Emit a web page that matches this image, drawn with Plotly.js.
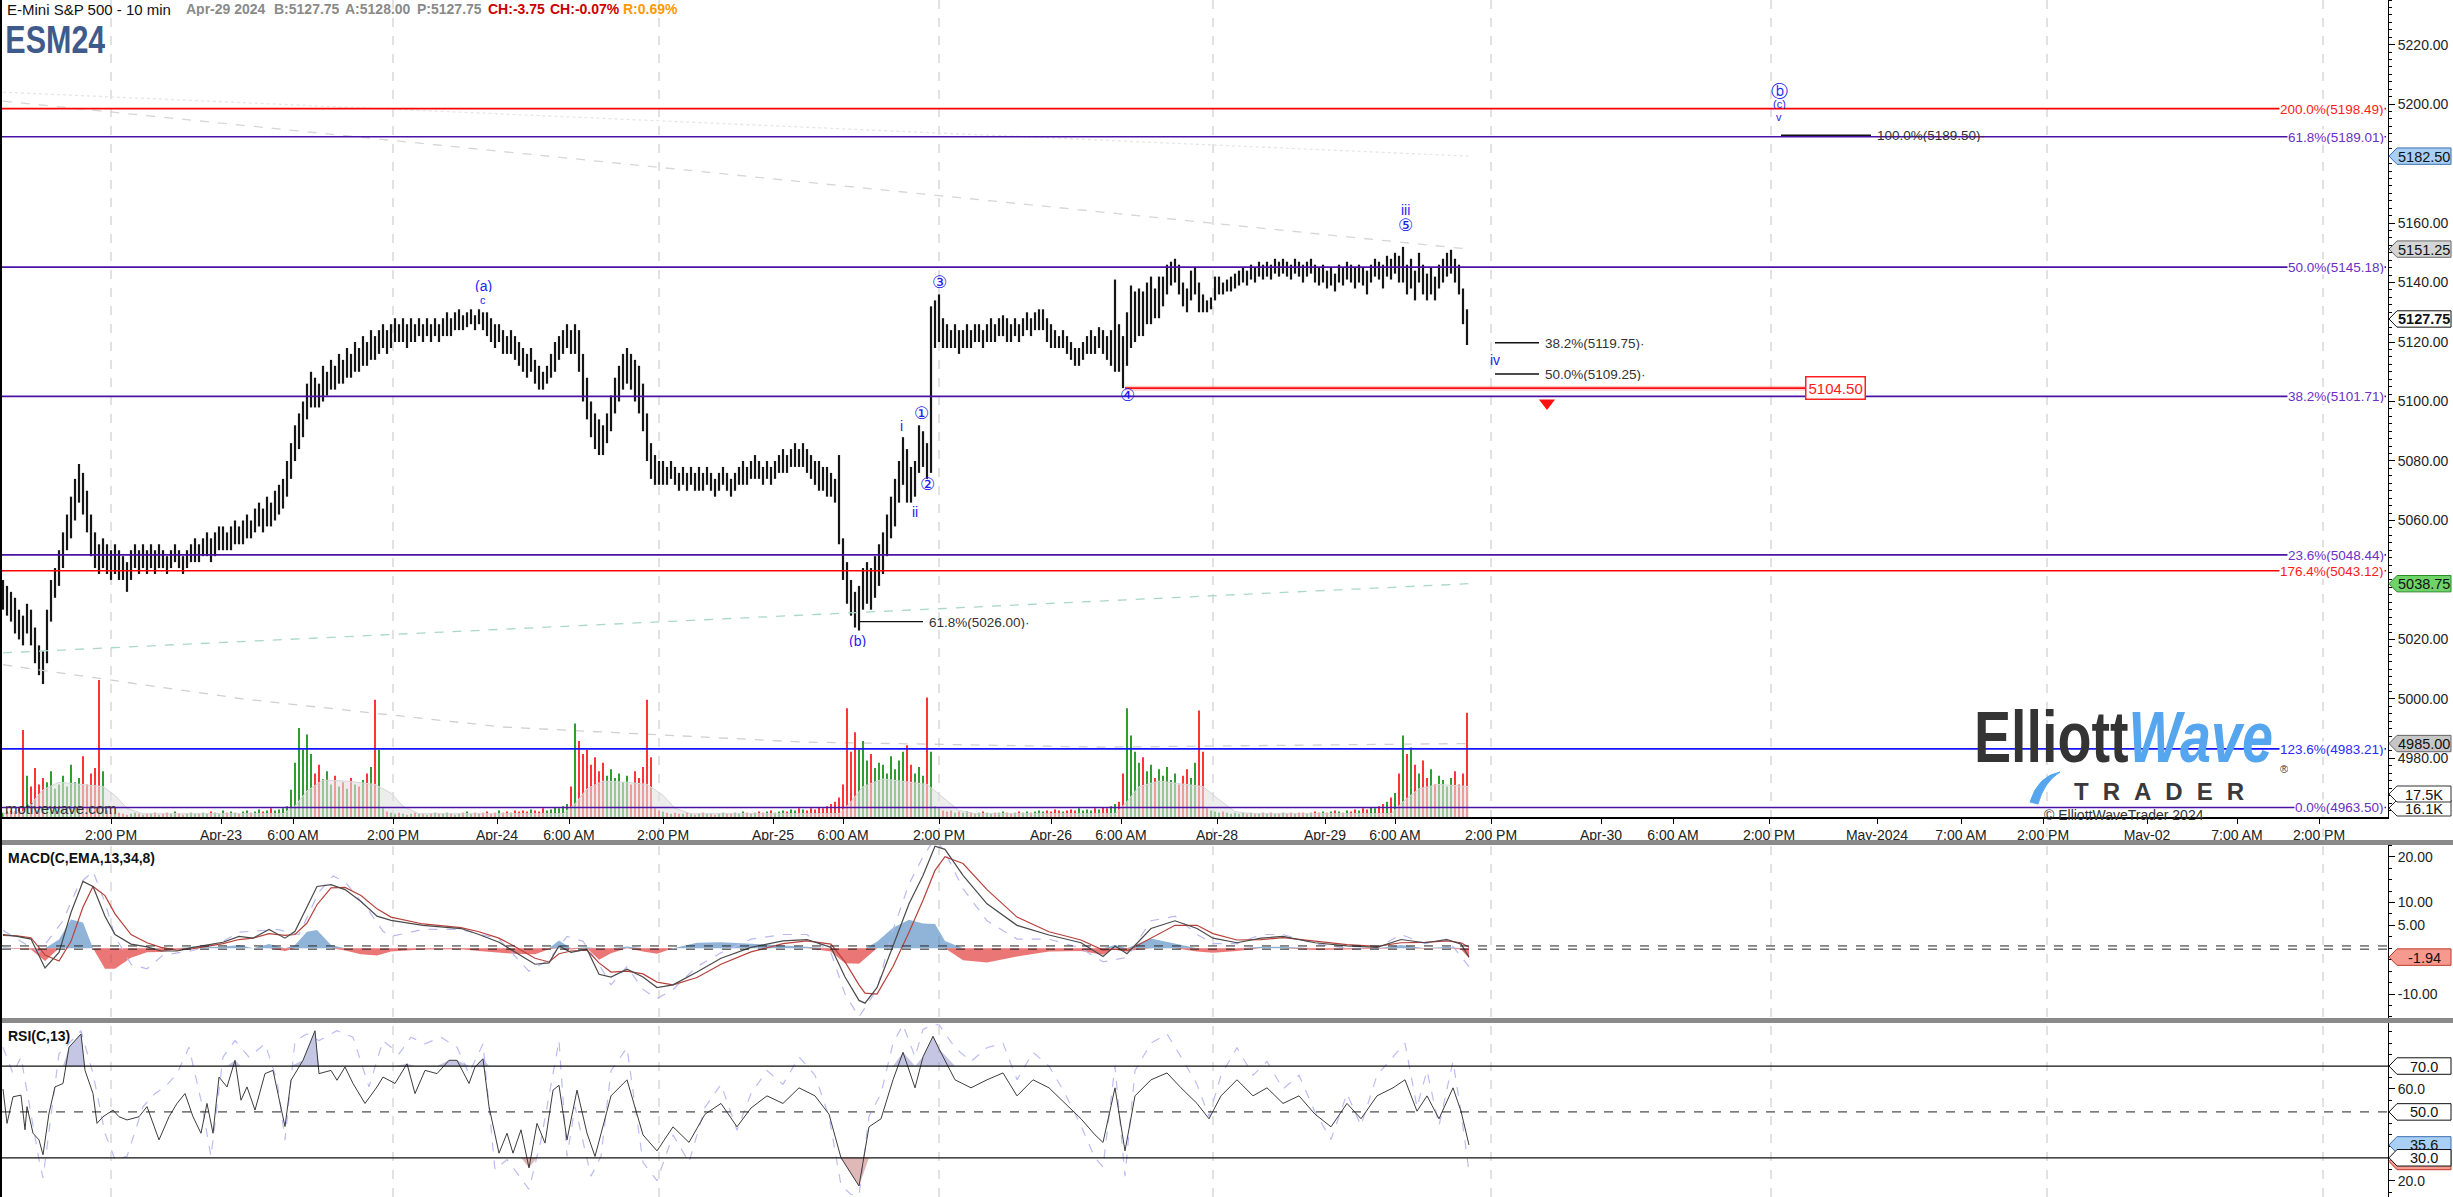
<!DOCTYPE html>
<html><head><meta charset="utf-8">
<script src="https://cdn.plot.ly/plotly-3.0.1.min.js"></script>
<style>html,body{margin:0;padding:0;background:#fff;overflow:hidden}</style>
</head><body><div id="chart" style="width:2453px;height:1197px"></div>
<script>
// ---------------- DATA ----------------
const barStep = 2; // 10-minute bars per drawn price bar
const priceHigh = [
5040,5038,5036,5034,5030,5028,5032,5030,5024,5018,
5016,5030,5040,5044,5050,5056,5062,5068,5074,5079,
5076,5070,5062,5056,5052,5054,5052,5050,5052,5050,
5048,5046,5050,5052,5050,5052,5050,5052,5050,5052,
5050,5048,5050,5052,5050,5048,5050,5052,5054,5052,
5054,5056,5054,5056,5058,5058,5056,5058,5060,5058,
5060,5062,5060,5064,5066,5064,5068,5066,5070,5072,
5074,5080,5086,5092,5096,5100,5106,5110,5108,5106,
5112,5110,5114,5112,5116,5114,5118,5116,5120,5118,
5122,5120,5124,5122,5124,5126,5124,5126,5128,5126,
5128,5126,5128,5126,5128,5126,5128,5126,5128,5126,
5128,5130,5128,5130,5131,5129,5130,5131,5129,5131,
5130,5130,5128,5126,5126,5124,5122,5124,5122,5120,
5118,5116,5118,5114,5112,5110,5112,5116,5120,5122,
5124,5126,5124,5126,5124,5116,5108,5100,5096,5094,
5092,5096,5102,5108,5112,5116,5118,5116,5114,5112,
5106,5096,5086,5082,5080,5080,5078,5080,5078,5076,
5078,5076,5078,5076,5078,5076,5078,5076,5074,5076,
5078,5076,5074,5076,5078,5080,5078,5080,5082,5080,
5078,5080,5078,5080,5082,5084,5082,5084,5086,5084,
5086,5084,5082,5080,5080,5078,5078,5076,5074,5082,
5054,5046,5040,5036,5038,5044,5046,5044,5048,5052,
5056,5062,5068,5074,5080,5088,5084,5078,5080,5092,
5090,5086,5132,5134,5136,5128,5126,5124,5126,5124,
5124,5126,5124,5126,5126,5124,5126,5128,5126,5128,
5129,5128,5126,5128,5126,5128,5130,5128,5130,5131,
5131,5128,5126,5124,5122,5124,5122,5120,5118,5118,
5120,5122,5124,5122,5125,5124,5122,5124,5141,5126,
5122,5130,5139,5137,5138,5137,5140,5142,5138,5142,
5142,5146,5147,5148,5146,5140,5138,5144,5145,5140,
5136,5134,5135,5142,5142,5140,5141,5142,5143,5144,
5145,5144,5146,5145,5147,5146,5147,5146,5148,5147,
5148,5147,5146,5148,5147,5146,5147,5148,5146,5145,
5146,5144,5145,5143,5146,5145,5147,5146,5145,5146,
5145,5144,5146,5148,5147,5146,5149,5148,5150,5149,
5152,5146,5148,5144,5150,5146,5143,5145,5142,5146,
5148,5150,5151,5148,5146,5138,5131];
const priceLow = [
5030,5028,5026,5022,5020,5018,5022,5018,5012,5008,
5005,5012,5026,5034,5038,5044,5050,5054,5060,5066,
5062,5056,5048,5044,5042,5044,5042,5040,5042,5040,
5040,5036,5040,5044,5042,5044,5042,5044,5042,5044,
5044,5042,5044,5046,5044,5042,5044,5046,5046,5046,
5048,5048,5046,5048,5050,5050,5050,5050,5052,5052,
5052,5054,5054,5056,5058,5056,5058,5058,5060,5062,
5064,5068,5074,5080,5084,5088,5094,5098,5098,5098,
5100,5102,5104,5104,5106,5106,5108,5108,5110,5110,
5112,5112,5114,5114,5116,5118,5116,5118,5120,5120,
5120,5118,5120,5120,5122,5120,5122,5120,5122,5120,
5122,5122,5122,5124,5124,5124,5125,5126,5124,5126,
5124,5122,5120,5118,5120,5116,5116,5116,5114,5112,
5110,5108,5110,5106,5104,5104,5106,5108,5110,5114,
5116,5118,5116,5116,5110,5100,5094,5088,5084,5082,
5082,5086,5090,5096,5100,5104,5106,5104,5100,5096,
5090,5080,5074,5072,5072,5072,5072,5074,5072,5070,
5072,5070,5072,5070,5070,5070,5072,5070,5068,5070,
5072,5070,5068,5070,5072,5072,5072,5074,5074,5074,
5072,5074,5072,5074,5076,5076,5076,5078,5078,5078,
5078,5076,5074,5072,5070,5070,5068,5068,5066,5052,
5040,5032,5028,5024,5023,5030,5032,5030,5034,5038,
5042,5048,5054,5058,5066,5072,5066,5066,5068,5076,
5078,5074,5076,5118,5120,5118,5118,5118,5118,5116,
5118,5118,5118,5120,5120,5118,5120,5120,5120,5122,
5122,5120,5120,5122,5120,5122,5124,5122,5124,5124,
5124,5120,5118,5118,5118,5118,5116,5114,5112,5112,
5114,5116,5116,5116,5118,5116,5114,5112,5110,5110,
5104.5,5112,5118,5120,5122,5122,5126,5126,5128,5128,
5132,5136,5139,5140,5136,5132,5130,5134,5136,5130,
5130,5130,5131,5134,5136,5136,5137,5137,5138,5139,
5140,5139,5141,5140,5142,5141,5142,5141,5143,5142,
5143,5142,5141,5143,5142,5140,5142,5143,5140,5139,
5140,5138,5139,5137,5140,5139,5141,5140,5138,5140,
5139,5136,5140,5142,5141,5138,5142,5141,5143,5140,
5140,5136,5138,5134,5140,5136,5134,5136,5134,5138,
5140,5142,5143,5140,5136,5126,5119];
const volumeK = [
4,5,6,5,8,80,38,28,45,30, 36,32,42,26,30,38,28,48,32,36,
56,30,40,45,126,42,6,4,3,4, 3,2,3,4,3,2,3,3,4,2,
3,4,3,5,3,2,3,4,3,3, 4,3,5,4,3,6,4,5,4,3,
5,6,4,5,7,5,6,8,6,7, 8,10,25,50,82,62,76,58,40,48,
35,42,30,38,28,32,26,36,30,28, 34,40,46,108,62,8,5,4,3,4,
3,2,3,4,3,3,2,3,4,3, 3,4,3,2,3,4,5,3,4,3,
4,5,3,4,6,4,5,4,6,5, 6,5,7,6,5,8,6,7,9,8,
10,12,28,86,70,58,62,48,55,42, 50,38,44,36,40,32,38,30,42,36,
46,108,55,8,6,5,4,3,4,3, 3,4,3,2,3,4,3,3,2,3,
4,3,3,4,3,5,4,3,4,5, 4,5,6,4,5,6,5,7,6,8,
7,6,8,7,9,8,10,12,14,18, 30,100,60,78,62,70,52,58,45,50,
48,40,56,44,52,60,66,48,40,46, 38,110,60,10,8,6,5,6,4,5,
4,5,4,3,4,5,4,3,4,4, 5,4,3,4,5,4,5,4,5,6,
5,6,5,7,6,5,6,7,6,8, 6,7,6,8,7,9,8,10,12,14,
40,100,75,60,50,55,42,48,36,44, 38,46,34,40,30,38,44,36,50,98,
60,8,6,5,4,5,4,3,4,3, 4,3,4,3,3,4,3,4,3,3,
4,3,4,3,4,4,3,4,5,4, 5,4,5,6,5,4,6,5,7,6,
8,7,9,8,10,12,14,18,22,40, 75,58,64,48,40,52,36,44,30,38,
34,28,36,42,30,40,96];
const volAvgX = [0,10,14,20,28,40,50,56,62,70,140,146,152,160,172,186,194,200,208,280,286,292,300,312,322,330,336,344,418,424,430,440,452,462,470,478,486,556,562,568,578,590,600,608,616,624,694,700,708,718,733];
const volAvgK = [3,5,12,25,32,30,28,20,8,3,3,10,24,34,33,30,22,10,3,3,12,26,33,32,30,20,8,3,3,14,28,35,32,30,18,6,3,3,14,28,33,30,28,16,5,3,3,14,26,30,28];

const tickPos = [54,109,145,195,247,283,330,385,420,468,524,559,607,661,696,744,799,835,883,937,979,1020,1072,1117,1158];
const tickLabels = ['2:00 PM','Apr-23','6:00 AM','2:00 PM','Apr-24','6:00 AM','2:00 PM','Apr-25','6:00 AM','2:00 PM','Apr-26','6:00 AM','Apr-28','Apr-29','6:00 AM','2:00 PM','Apr-30','6:00 AM','2:00 PM','May-2024','7:00 AM','2:00 PM','May-02','7:00 AM','2:00 PM'];
const gridBars = [54,195,328,468,605,744,884,1022,1160];

const macdX = [0,7,14,21,28,34,40,45,51,56,64,72,79,87,95,102,110,118,125,133,141,146,152,157,164,171,179,187,194,210,229,238,248,255,266,273,278,284,292,298,304,312,320,327,335,347,359,374,390,402,414,421,428,431,437,445,453,460,466,471,480,492,507,523,539,550,556,562,574,586,597,605,617,629,640,656,672,687,699,711,722,729,733];
const macdLine = [3.0,2.6,2.0,-4.3,-0.9,7.8,14.6,13.5,7.0,3.0,0.9,0.3,-0.6,-0.6,0.2,0.7,1.3,2.6,2.2,4.1,2.2,3.7,9.1,13.5,13.9,12.8,10.2,7.0,6.1,5.0,4.3,3.0,1.3,-0.6,-3.5,-3.2,0.5,-0.9,-0.2,-5.7,-6.3,-4.6,-6.3,-8.6,-8.0,-5.2,-2.2,0.2,1.6,1.9,0.2,-6.3,-11.4,-12.0,-8.6,0.5,9.7,15.9,22.3,21.6,15.9,9.7,5.0,2.9,1.2,-1.8,0.5,-1.2,4.3,6.0,4.3,2.2,1.2,2.2,2.6,1.2,0.5,0.2,1.9,1.2,1.9,0.9,-1.94];
const macdSignal = [2.8,2.7,2.3,-1.5,-2.8,1.5,9.0,13.5,11.5,7.5,3.0,1.2,0.2,-0.4,-0.1,0.4,1.0,1.9,2.2,3.2,2.8,3.0,5.5,9.5,13.2,13.3,11.5,8.6,6.8,5.3,4.5,3.6,2.2,0.6,-2.2,-3.0,-1.2,-0.6,-0.4,-3.2,-5.2,-5.0,-5.6,-7.4,-8.0,-6.4,-3.5,-0.8,1.0,1.6,0.9,-3.0,-8.0,-9.8,-10.0,-4.0,3.5,10.5,17.0,20.0,18.5,12.8,6.8,3.6,1.8,-0.4,-0.2,-0.6,2.2,5.0,5.0,3.2,1.8,1.9,2.3,1.6,0.8,0.4,1.2,1.3,1.6,1.2,0.2];
const macdBandX = [0,18,30,38,45,51,56,64,72,80,95,110,118,137,148,158,165,171,183,190,194,210,229,248,263,273,282,290,298,304,312,320,327,335,347,359,374,390,402,414,421,428,437,445,453,460,466,471,480,492,507,523,539,550,562,574,586,597,605,617,629,640,656,672,687,699,711,722,733];
const macdBand = [3.9,-0.9,6,14,16.8,10,2.6,-3.5,-4.5,-1.5,-0.5,1.5,3.5,4.1,3.0,12.3,15.8,14.5,8.1,3.7,2.6,4.1,4.1,2.0,-5.0,-2.5,2.6,1.5,-3.5,-8,-4,-9,-11,-9,-4,-1,2,3,3,-1,-10,-15,-9,4,14,20,24,21,13,6,2,2,0,-3,-2,6,7,3,1,1,3,3,1,0,0,3,1,2,-4];

const rsiX = [0,2,5,9,11,12,15,18,20,23,26,30,33,39,41,45,47,50,55,58,62,68,72,78,83,87,91,95,99,102,105,108,112,116,119,122,126,131,135,138,141,144,150,156,158,164,167,171,175,181,187,190,196,202,206,211,217,223,227,233,236,240,243,248,252,255,259,263,267,271,275,278,282,287,292,296,299,304,312,320,327,335,343,351,359,367,374,382,390,398,406,413,419,424,428,433,439,445,450,456,460,465,468,476,484,492,500,507,515,523,531,539,546,550,556,561,566,574,582,589,597,603,609,617,625,632,640,648,656,664,672,679,687,695,701,707,712,718,725,729,733];
const rsiLine = [60,45,56.6,57.3,42.2,52.3,40.7,37.8,31.3,49.4,60.9,62.4,78.2,84,68.1,58,45,47.9,50.8,47.9,46.5,47.9,52.3,37.8,47.9,53.7,58,47.9,40.7,53.7,40.7,65.2,60.9,72.5,55.1,60.9,50.8,66.7,68.1,55.1,43.6,63.8,72.5,85.4,66.7,68.1,63.8,69.6,62.4,53.7,60.9,65.2,62.4,71,58,68.1,66.7,72.5,72.5,62.4,69.6,73.2,52.3,32,40.7,32,42.2,25.6,45,36.4,59.5,61.6,37.8,59.5,40.7,30.6,40.7,57,64,40,33,43.5,36.7,49,53.7,43.5,51.7,57,53.7,60.5,57,49,30,23,17.7,43.5,47,64,76,60.5,74,83,77.5,64,60.5,64,67,57,64,60.5,53.7,47,40,36.7,60.5,33,57,64,67,60.5,53.7,47,57,64,57,60.5,53.7,57,49,43.5,53.7,47,57,60.5,64,50.3,57,47,60.5,50.3,35.6];
const rsiBandX = [0,5,9,18,20,28,39,45,51,56,62,70,76,81,87,93,99,104,110,116,123,131,137,141,146,152,158,167,175,183,190,198,204,211,219,227,233,240,246,252,257,263,269,275,278,282,286,294,299,304,312,320,327,335,343,351,359,367,374,382,390,398,406,413,419,424,428,433,439,445,450,456,460,465,468,476,484,492,500,507,515,523,531,539,546,550,556,561,566,574,582,589,597,603,609,617,625,632,640,648,656,664,672,679,687,695,701,707,712,718,725,729,733];
const rsiBand = [78.2,66.7,73.9,29.2,21.2,75.3,85.4,66.7,40.7,29.2,30.6,52.3,58,60.9,66.7,78.2,55.1,30.6,73.9,81.1,73.9,79.7,63.8,37.8,81.1,84,81.1,85.4,82.6,60.9,81.1,75.3,82.6,79.7,82.6,78.2,66.7,79.7,24.8,29.2,23.4,16.2,37.8,66.7,81.1,30.6,52.3,22,30.6,68,78,28,20,40,28,52,62,42,58,68,62,74,66,48,18,14,13.5,48,58,80,88,74,86,88,88,78,72,78,80,64,76,70,58,44,30,26,70,22,68,80,84,74,62,48,66,78,66,72,60,66,50,38,58,44,66,74,80,52,68,44,72,50,24];

const fibPct = [200.0, 61.8, 50.0, 38.2, 23.6, 176.4, 123.6, 0.0];
const fibPrice = [5198.49, 5189.01, 5145.18, 5101.71, 5048.44, 5043.12, 4983.21, 4963.50];

const retrPct = [61.8, 38.2, 50.0, 100.0];
const retrPrice = [5026.00, 5119.75, 5109.25, 5189.50];
const retrFrom = [428, 746, 746, 889];
const retrTo = [460, 768, 768, 934];

const waveText = ['(a)','c','(b)','i','ii','①','②','③','④','iii','⑤','iv','ⓑ','(c)','v'];
const waveBar = [240,240,427,449,456,459,462,468,562,701,701,746,888,888,888];
const wavePrice = [5139,5134.2,5019.5,5092,5063,5096.3,5072.6,5140.5,5102.2,5164.6,5159.5,5114.2,5204.7,5200.2,5195.6];

const stopPrice = 5104.50, stopFrom = 561, stopTo = 902;
const arrowBar = 772, arrowPrice = 5099.5;

const trendTopBars = [0, 733], trendTopPrice = [5204, 5182.5];
const trendGrayBars = [0, 733], trendGrayPrice = [5201, 5151.25];
const trendLowBars = [0,120,249,400,550,733], trendLowPrice = [5011.5,5000,4990.6,4985.5,4983.8,4985];
const trendTealBars = [0, 733], trendTealPrice = [5015.5, 5038.75];

const priceMarks = [5182.50, 5151.25, 5127.75, 5038.75, 4985.00];
const volumeMarks = [16.1, 17.5];
const macdMark = -1.94;
const rsiMarks = [70.0, 50.0, 35.6, 30.0];
const rsiHiddenMark = 28.4;

// ---------------- DRAWING ----------------
const FONT = 'Liberation Sans, Arial, sans-serif';
const W = 2453, H = 1197, ML = 2, MR = 65, PW = W - ML - MR;
const fx = x => (x - ML) / PW, fy = y => 1 - y / H;
const BLUE = '#1c1cf0', PURPLE = '#4b12a6', PURPLE_T = '#6a2fc4';

const xs = priceHigh.map((_, k) => k * barStep);
const mid = priceHigh.map((h, k) => (h + priceLow[k]) / 2);
const traces = [];

traces.push({type:'bar', x:xs, y:priceHigh.map((h,k)=>h-priceLow[k]), base:priceLow, width:1.1,
  marker:{color:'#151515', line:{width:0}}, yaxis:'y', hoverinfo:'skip'});
traces.push({type:'scatter', mode:'lines', x:volAvgX, y:volAvgK, yaxis:'y2', fill:'tozeroy', fillcolor:'rgba(225,225,225,0.6)',
  line:{color:'#d6d6d6', width:1}, hoverinfo:'skip'});
traces.push({type:'bar', x:xs, y:volumeK, width:1.0, yaxis:'y2', hoverinfo:'skip',
  marker:{color:volumeK.map((v,k)=>(k===0||mid[k]>=mid[k-1])?'#2f9e2f':'#ff3535'), line:{width:0}}});

const dashed = (x, y, color, dash) => ({type:'scatter', mode:'lines', x, y, yaxis:'y', hoverinfo:'skip',
  line:{color, width:1.3, dash: dash || 'dash'}});
traces.push(dashed(trendTopBars, trendTopPrice, '#e6e6e6', 'dot'));
traces.push(dashed(trendGrayBars, trendGrayPrice, '#d6d6d6'));
traces.push(dashed(trendLowBars, trendLowPrice, '#d0d0d0'));
traces.push(dashed(trendTealBars, trendTealPrice, '#a9d8c8'));

traces.push({type:'scatter', mode:'markers', x:[arrowBar], y:[arrowPrice], yaxis:'y', hoverinfo:'skip',
  marker:{symbol:'triangle-down', size:14, color:'#ff1010'}});

// MACD
const hist = macdLine.map((v,i)=>v-macdSignal[i]);
traces.push({type:'scatter', mode:'lines', x:macdX, y:hist.map(v=>Math.max(v,0)), yaxis:'y3', fill:'tozeroy',
  fillcolor:'rgba(70,130,190,0.6)', line:{width:0}, hoverinfo:'skip'});
traces.push({type:'scatter', mode:'lines', x:macdX, y:hist.map(v=>Math.min(v,0)), yaxis:'y3', fill:'tozeroy',
  fillcolor:'rgba(225,45,45,0.65)', line:{width:0}, hoverinfo:'skip'});
traces.push({type:'scatter', mode:'lines', x:macdBandX, y:macdBand, yaxis:'y3', line:{color:'#b9b9f0', width:1.2, dash:'dash'}, hoverinfo:'skip'});
traces.push({type:'scatter', mode:'lines', x:macdX, y:macdSignal, yaxis:'y3', line:{color:'#b8403a', width:1.2}, hoverinfo:'skip'});
traces.push({type:'scatter', mode:'lines', x:macdX, y:macdLine, yaxis:'y3', line:{color:'#4a4a4a', width:1.2}, hoverinfo:'skip'});

// RSI
traces.push({type:'scatter', mode:'lines', x:rsiBandX, y:rsiBand, yaxis:'y4', line:{color:'#bcbcf2', width:1.2, dash:'dash'}, hoverinfo:'skip'});
traces.push({type:'scatter', mode:'lines', x:rsiX, y:rsiX.map(()=>70), yaxis:'y4', line:{width:0}, hoverinfo:'skip'});
traces.push({type:'scatter', mode:'lines', x:rsiX, y:rsiLine.map(v=>Math.max(v,70)), yaxis:'y4', fill:'tonexty',
  fillcolor:'rgba(150,150,205,0.55)', line:{width:0}, hoverinfo:'skip'});
traces.push({type:'scatter', mode:'lines', x:rsiX, y:rsiX.map(()=>30), yaxis:'y4', line:{width:0}, hoverinfo:'skip'});
traces.push({type:'scatter', mode:'lines', x:rsiX, y:rsiLine.map(v=>Math.min(v,30)), yaxis:'y4', fill:'tonexty',
  fillcolor:'rgba(200,125,125,0.55)', line:{width:0}, hoverinfo:'skip'});
traces.push({type:'scatter', mode:'lines', x:rsiX, y:rsiLine, yaxis:'y4', line:{color:'#3c3c3c', width:1}, hoverinfo:'skip'});

const shapes = [], annotations = [];
gridBars.forEach(g => shapes.push({type:'line', xref:'x', yref:'paper', x0:g, x1:g, y0:0, y1:1, layer:'below',
  line:{color:'#c4c4c4', width:1, dash:'dash'}}));
fibPct.forEach((p,i) => {
  const col = (p===200||p===176.4) ? '#ff0000' : (p===123.6 ? '#1515ff' : PURPLE);
  const tcol = (p===200||p===176.4) ? '#ff1a1a' : (p===123.6 ? '#2a2aff' : PURPLE_T);
  shapes.push({type:'line', xref:'paper', yref:'y', x0:0, x1:fx(2386), y0:fibPrice[i], y1:fibPrice[i], line:{color:col, width:1.6}});
  annotations.push({xref:'paper', yref:'y', x:fx(2385), y:fibPrice[i], xanchor:'right', yanchor:'middle', showarrow:false, height:14,
    text:p.toFixed(1)+'%('+fibPrice[i].toFixed(2)+')', bgcolor:'#ffffff', borderpad:0, font:{family:FONT, size:13.5, color:tcol}});
});
shapes.push({type:'line', xref:'x', yref:'y', x0:stopFrom, x1:stopTo, y0:stopPrice, y1:stopPrice, line:{color:'rgba(255,80,80,0.3)', width:5}});
shapes.push({type:'line', xref:'x', yref:'y', x0:stopFrom, x1:stopTo, y0:stopPrice, y1:stopPrice, line:{color:'#ff1010', width:1.6}});
annotations.push({xref:'x', yref:'y', x:stopTo+14, y:stopPrice, showarrow:false, text:stopPrice.toFixed(2),
  bgcolor:'#ffffff', bordercolor:'#ff2020', borderwidth:1.5, borderpad:2, font:{family:FONT, size:15, color:'#ff1a1a'}});
retrPct.forEach((p,i) => {
  shapes.push({type:'line', xref:'x', yref:'y', x0:retrFrom[i], x1:retrTo[i], y0:retrPrice[i], y1:retrPrice[i], line:{color:'#111', width:1.4}});
  annotations.push({xref:'x', yref:'y', x:retrTo[i]+2, y:retrPrice[i], xanchor:'left', yanchor:'middle', showarrow:false, height:14,
    text:p.toFixed(1)+'%('+retrPrice[i].toFixed(2)+')·', font:{family:FONT, size:13.5, color:'#333'}});
});
waveText.forEach((t,i) => {
  const small = (t==='c'||t==='(c)'||t==='v');
  const circ = '①②③④⑤ⓑ'.includes(t);
  annotations.push({xref:'x', yref:'y', x:waveBar[i], y:wavePrice[i], showarrow:false, text:t, borderpad:0,
    height: circ ? 17 : (small ? 10 : 13),
    font:{family: circ ? 'DejaVu Sans, sans-serif' : FONT, size: circ ? 17 : (small ? 11 : 14), color:BLUE}});
});
shapes.push({type:'line', xref:'paper', yref:'y3', x0:0, x1:1, y0:0.5, y1:0.5, line:{color:'#222', width:1, dash:'dash'}});
shapes.push({type:'line', xref:'paper', yref:'y3', x0:0, x1:1, y0:-0.2, y1:-0.2, line:{color:'#222', width:1, dash:'dash'}});
[70,30].forEach(v => shapes.push({type:'line', xref:'paper', yref:'y4', x0:0, x1:1, y0:v, y1:v, line:{color:'#111', width:1.2}}));
shapes.push({type:'line', xref:'paper', yref:'y4', x0:0, x1:1, y0:50, y1:50, line:{color:'#222', width:1, dash:'dash'}});
[[840,845],[1018,1023]].forEach(([a,b]) => shapes.push({type:'rect', xref:'paper', yref:'paper', x0:fx(0), x1:fx(W), y0:fy(b), y1:fy(a),
  fillcolor:'#8a8a8a', line:{width:0}, layer:'above'}));
shapes.push({type:'line', xref:'paper', yref:'paper', x0:fx(1), x1:fx(1), y0:0, y1:1, line:{color:'#000', width:2}, layer:'above'});
// logo swoosh
shapes.push({type:'path', xref:'paper', yref:'paper', layer:'above',
  path:`M ${fx(2030)},${fy(802)} Q ${fx(2038)},${fy(776)} ${fx(2060)},${fy(772)} Q ${fx(2044)},${fy(782)} ${fx(2038)},${fy(804)} Z`,
  fillcolor:'#55a6ee', line:{color:'#55a6ee', width:1}});

function marker(yref, v, half, text, fill, border, bold) {
  const a = fx(2389), b = fx(2397), c = fx(2451);
  shapes.push({type:'path', xref:'paper', yref, layer:'above',
    path:`M ${a},${v} L ${b},${v+half} L ${c},${v+half} L ${c},${v-half} L ${b},${v-half} Z`,
    fillcolor:fill, line:{color:border, width:1}});
  if (text) annotations.push({xref:'paper', yref, x:fx(2424), y:v, showarrow:false, xanchor:'center', yanchor:'middle',
    height:13, borderpad:0, text: bold ? '<b>'+text+'</b>' : text, font:{family:FONT, size:14.5, color:'#111'}});
}
const pmStyle = [['#a9cff5','#3a6fb0',false],['#d5d5d5','#666',false],['#ffffff','#111',true],['#6fd36a','#2a8a2a',false],['#c6c6c6','#666',false]];
priceMarks.forEach((v,i)=>marker('y', v, 2.75, v.toFixed(2), pmStyle[i][0], pmStyle[i][1], pmStyle[i][2]));
volumeMarks.forEach(v=>marker('y5', v, 0.8, v.toFixed(1)+'K', '#ffffff', '#333', false));
marker('y3', macdMark, 1.8, macdMark.toFixed(2), '#f6998e', '#c0392b', false);
marker('y4', rsiHiddenMark, 3.6, '', '#f6998e', '#c0392b', false);
const rsiStyle = [['#ffffff','#111'],['#ffffff','#111'],['#a9cff5','#3a6fb0'],['#ffffff','#111']];
rsiMarks.forEach((v,i)=>marker('y4', v, 3.6, v.toFixed(1), rsiStyle[i][0], rsiStyle[i][1], false));

const hdr = (x, y, text, size, color, bold, anchor, box) => annotations.push(Object.assign({xref:'paper', yref:'paper', x:fx(x), y:fy(y),
  xanchor: anchor || 'left', yanchor:'middle', showarrow:false, borderpad:0, text: bold ? '<b>'+text+'</b>' : text,
  font:{family: FONT, size, color}}, box || {}));
hdr(6, 9, 'E-Mini S&P 500 - 10 min', 15, '#111', false, 'left', {height:14});
hdr(185, 9, 'Apr-29 2024', 14, '#8a8a8a', true, 'left', {height:14});
hdr(273, 9, 'B:5127.75', 14, '#8a8a8a', true, 'left', {height:14});
hdr(344, 9, 'A:5128.00', 14, '#8a8a8a', true, 'left', {height:14});
hdr(416, 9, 'P:5127.75', 14, '#8a8a8a', true, 'left', {height:14});
hdr(487, 9, 'CH:-3.75', 14, '#cc0000', true, 'left', {height:14});
hdr(549, 9, 'CH:-0.07%', 14, '#cc0000', true, 'left', {height:14});
hdr(622, 9, 'R:0.69%', 14, '#ff9900', true, 'left', {height:14});
hdr(55, 40, 'ESM24', 38, '#3f5b8c', true, 'center', {height:30});
hdr(7, 858, 'MACD(C,EMA,13,34,8)', 14, '#111', true);
hdr(7, 1036, 'RSI(C,13)', 14, '#111', true);
hdr(4, 808, 'motivewave.com', 15, '#333', false, 'left', {height:14});
hdr(2123, 737, 'Elliott<span style="color:#55a6ee"><i>Wave</i></span>', 72, '#343434', true, 'center', {height:58});
hdr(2284, 768, '®', 11, '#343434', false, 'center', {height:11});
hdr(2166, 791, 'TRADER', 24, '#3a3a3a', true, 'center');
hdr(2124, 814, '© ElliottWaveTrader 2024', 14, '#333', false, 'center', {height:13});

const axFont = {family:FONT, size:14, color:'#222'};
const yCommon = {side:'right', anchor:'x', showline:true, linecolor:'#000', linewidth:1, ticks:'outside', ticklen:6,
  tickcolor:'#000', showgrid:false, zeroline:false, tickfont:axFont, fixedrange:true};
const layout = {
  width:W, height:H, margin:{l:ML, r:MR, t:0, b:0}, paper_bgcolor:'#fff', plot_bgcolor:'rgba(0,0,0,0)',
  showlegend:false, barmode:'overlay', hovermode:false, font:{family:FONT, size:14, color:'#222'},
  xaxis:{range:[-0.5,1192.5], anchor:'y', tickmode:'array', tickvals:tickPos, ticktext:tickLabels, ticks:'outside',
    ticklen:5, tickcolor:'#000', showline:true, linecolor:'#000', linewidth:1.5, showgrid:false, zeroline:false, tickfont:axFont, fixedrange:true},
  yaxis:Object.assign({}, yCommon, {domain:[1-817/H, 1], range:[4960.3, 5235.0], tickmode:'array',
    tickvals:[4980,5000,5020,5060,5080,5100,5120,5140,5160,5200,5220], ticktext:[4980,5000,5020,5060,5080,5100,5120,5140,5160,5200,5220].map(v=>v.toFixed(2)),
    minor:{tickmode:'linear', tick0:0, dtick:2.5, ticks:'outside', ticklen:3, tickcolor:'#000'}}),
  yaxis2:{overlaying:'y', anchor:'x', range:[0,752], visible:false, fixedrange:true},
  yaxis5:{overlaying:'y', anchor:'x', range:[15.2, 96.9], visible:false, fixedrange:true},
  yaxis3:Object.assign({}, yCommon, {domain:[1-1019/H, 1-844/H], range:[-15.46, 22.77], tickmode:'array',
    tickvals:[20,10,5,-10], ticktext:['20.00','10.00','5.00','-10.00'],
    minor:{tickmode:'linear', tick0:0, dtick:2.5, ticks:'outside', ticklen:3, tickcolor:'#000'}}),
  yaxis4:Object.assign({}, yCommon, {domain:[0, 1-1022.7/H], range:[12.9, 88.9], tickmode:'array',
    tickvals:[60,20], ticktext:['60.0','20.0'],
    minor:{tickmode:'linear', tick0:0, dtick:5, ticks:'outside', ticklen:3, tickcolor:'#000'}}),
  shapes, annotations
};
traces.push({type:'scatter', mode:'markers', x:[0], y:[17.5], yaxis:'y5', marker:{opacity:0}, hoverinfo:'skip'});

Plotly.newPlot('chart', traces, layout, {staticPlot:true, displayModeBar:false}).then(gd => {
  const fits = {'ESM24':100, 'ElliottWave':299};
  gd.querySelectorAll('text.annotation-text').forEach(t => {
    const s = t.textContent;
    if (fits[s]) {
      const nat = t.getComputedTextLength();
      const k = fits[s] / nat;
      const x = parseFloat(t.getAttribute('x')) || 0;
      const prev = t.getAttribute('transform') || '';
      t.setAttribute('transform', `${prev} translate(${x},0) scale(${k},1) translate(${-x},0)`.trim());
    }
    if (s === 'TRADER') t.style.letterSpacing = '14px';
  });
});
</script></body></html>
